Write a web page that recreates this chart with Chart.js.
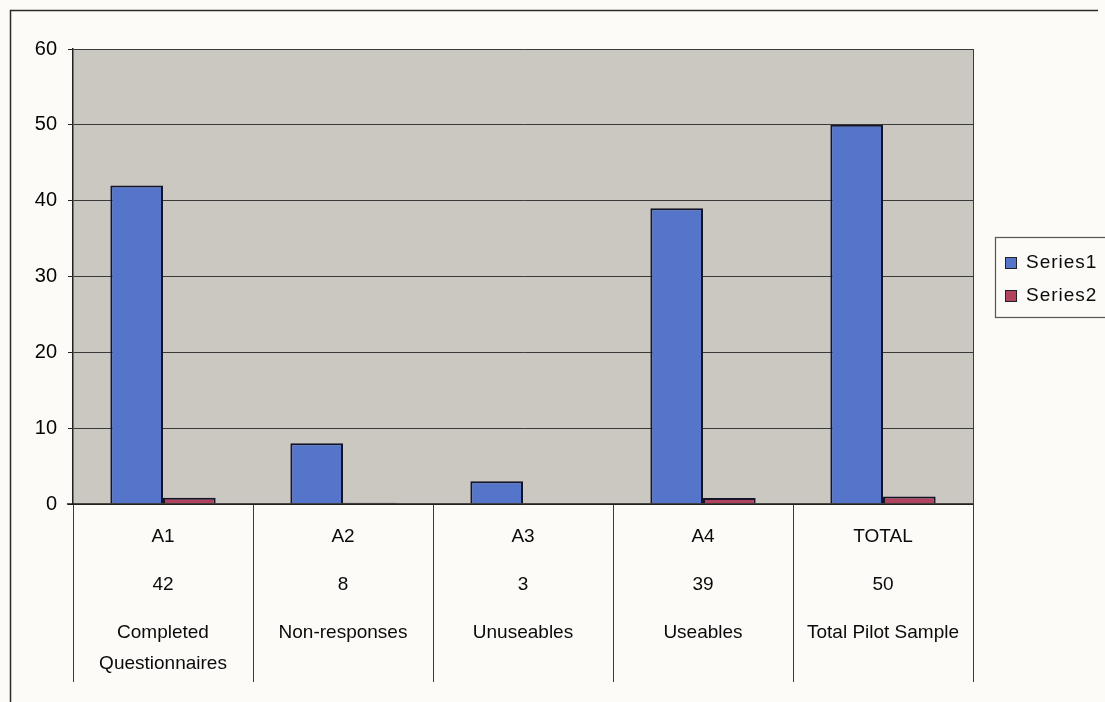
<!DOCTYPE html>
<html>
<head>
<meta charset="utf-8">
<script src="https://cdn.jsdelivr.net/npm/chart.js@4/dist/chart.umd.min.js"></script>
<style>
  html, body { margin: 0; padding: 0; background: #fcfbf7; }
  #wrap { width: 1105px; height: 702px; position: relative; }
</style>
</head>
<body>
<div id="wrap"><canvas id="c" width="1105" height="702"></canvas></div>
<script>
// ---- data ----
const categories = ['A1', 'A2', 'A3', 'A4', 'TOTAL'];
const series1 = [42, 8, 3, 39, 50];
const series2 = [0.84, 0.16, 0.06, 0.78, 1.0];
const countLabels = ['42', '8', '3', '39', '50'];
const descriptions = [
  ['Completed', 'Questionnaires'],
  ['Non-responses'],
  ['Unuseables'],
  ['Useables'],
  ['Total Pilot Sample']
];
const seriesNames = ['Series1', 'Series2'];
const yTicks = [0, 10, 20, 30, 40, 50, 60];

const FONT = '"Liberation Sans", Arial, sans-serif';
const colors = ['#5475c9', '#b2435e'];

const decor = {
  id: 'decor',
  beforeDraw(chart) {
    const { ctx, chartArea: a } = chart;
    ctx.save();
    ctx.fillStyle = '#cbc7c1';
    ctx.fillRect(a.left, a.top, a.right - a.left, a.bottom - a.top);
    ctx.strokeStyle = '#2a2a2a';
    ctx.lineWidth = 1.5;
    ctx.beginPath();
    ctx.moveTo(10.5, 702);
    ctx.lineTo(10.5, 10.5);
    ctx.lineTo(1098, 10.5);
    ctx.stroke();
    ctx.restore();
  },
  beforeDatasetsDraw(chart) {
    const { ctx, chartArea: a } = chart;
    ctx.save();
    ctx.strokeStyle = '#3a3a3a';
    ctx.lineWidth = 1;
    ctx.beginPath();
    ctx.moveTo(a.right + 0.5, a.top);
    ctx.lineTo(a.right + 0.5, a.bottom);
    ctx.stroke();
    ctx.restore();
  },
  afterDraw(chart) {
    const { ctx, chartArea: a } = chart;
    const x = chart.scales.x;
    const n = categories.length;
    const step = (a.right - a.left) / n;
    ctx.save();
    ctx.strokeStyle = '#3a3a3a';
    ctx.lineWidth = 1;
    ctx.beginPath();
    for (let i = 0; i <= n; i++) {
      const px = Math.round(i === n ? a.right : x.getPixelForValue(i) - step / 2) + 0.5;
      ctx.moveTo(px, a.bottom);
      ctx.lineTo(px, 682);
    }
    ctx.stroke();
    ctx.strokeStyle = '#1a1a1a';
    ctx.lineWidth = 1.5;
    ctx.beginPath();
    ctx.moveTo(a.left - 6, a.bottom);
    ctx.lineTo(a.right, a.bottom);
    ctx.stroke();
    ctx.fillStyle = '#0a0a0a';
    ctx.font = '19px ' + FONT;
    ctx.textAlign = 'center';
    ctx.textBaseline = 'middle';
    for (let i = 0; i < n; i++) {
      const cx = x.getPixelForValue(i);
      ctx.fillText(categories[i], cx, 537);
      ctx.fillText(countLabels[i], cx, 585);
      descriptions[i].forEach((t, k) => ctx.fillText(t, cx, 633 + k * 31));
    }
    ctx.strokeStyle = '#555';
    ctx.lineWidth = 1.2;
    ctx.strokeRect(995.5, 237.5, 120, 80);
    ctx.textAlign = 'left';
    ctx.font = '19px ' + FONT;
    ctx.letterSpacing = '1px';
    seriesNames.forEach((name, k) => {
      const cy = 263 + k * 33;
      ctx.fillStyle = colors[k];
      ctx.fillRect(1005, cy - 6, 12, 12);
      ctx.strokeStyle = '#222';
      ctx.lineWidth = 1;
      ctx.strokeRect(1005.5, cy - 5.5, 11, 11);
      ctx.fillStyle = '#0a0a0a';
      ctx.fillText(name, 1026, cy);
    });
    ctx.restore();
  }
};

new Chart(document.getElementById('c'), {
  type: 'bar',
  data: {
    labels: categories,
    datasets: [
      { label: seriesNames[0], data: series1, backgroundColor: colors[0], borderColor: '#15152a', borderWidth: 2, borderSkipped: 'bottom' },
      { label: seriesNames[1], data: series2, backgroundColor: colors[1], borderColor: '#15152a', borderWidth: 2, borderSkipped: 'bottom' }
    ]
  },
  options: {
    responsive: false,
    animation: false,
    devicePixelRatio: 1,
    categoryPercentage: 0.585,
    barPercentage: 1.0,
    layout: { padding: { left: 0, right: 132, top: 49, bottom: 198 } },
    plugins: { legend: { display: false }, tooltip: { enabled: false } },
    scales: {
      x: {
        display: false,
        grid: { display: false }
      },
      y: {
        min: 0,
        max: 60,
        afterFit(scale) { scale.width = 73; },
        afterBuildTicks(scale) { scale.ticks = yTicks.map(v => ({ value: v })); },
        border: { display: true, color: '#222', width: 1.5 },
        grid: { color: '#3a3a3a', lineWidth: 1, tickLength: 5, drawTicks: true, tickColor: '#222' },
        ticks: { color: '#050505', font: { family: FONT, size: 20 }, padding: 11 }
      }
    }
  },
  plugins: [decor]
});
</script>
</body>
</html>
